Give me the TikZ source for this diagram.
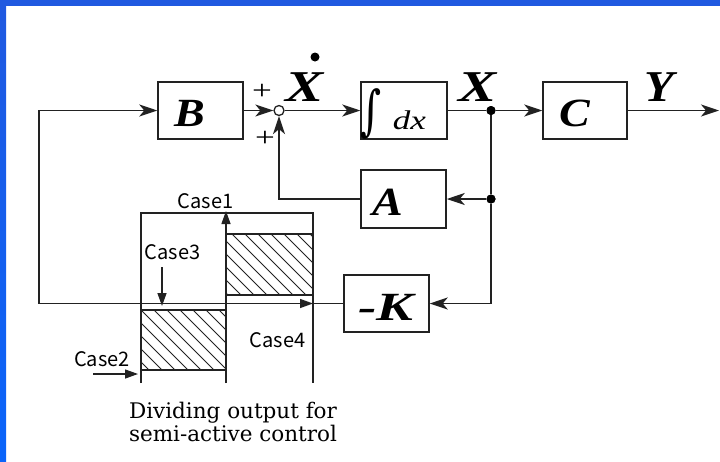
\documentclass[tikz,border=0pt]{standalone}
\usepackage{fontspec}
\setmainfont{Liberation Serif}
\newfontfamily\casefont{Noto Sans CJK JP}
\newfontfamily\capfont{DejaVu Serif}
\usetikzlibrary{arrows.meta,calc}
\definecolor{bluebar}{HTML}{2059E0}
\definecolor{bluebarlow}{HTML}{0A64FA}
\definecolor{ink}{HTML}{222222}
\begin{document}
\begin{tikzpicture}[x=1pt,y=-1pt,
  blk/.style={draw=ink,line width=1.5pt,minimum width=85pt,minimum height=57pt,inner sep=0pt},
  lbl/.style={font=\fontsize{40}{40}\selectfont\bfseries\itshape,inner sep=0pt,xscale=1.15},
  big/.style={font=\fontsize{44}{44}\selectfont\bfseries\itshape,inner sep=0pt},
  sig/.style={line width=1.5pt,draw=ink},
  arr/.style={sig,-{Stealth[length=18pt,width=12pt,inset=5pt]}},
  tri/.style={-{Triangle[length=13pt,width=9pt]}},
  plotln/.style={line width=1.3pt,draw=ink},
  hatch/.style={line width=1pt,draw=ink},
  case/.style={font=\casefont\fontsize{20}{20}\selectfont,inner sep=0pt},
  jdot/.style={circle,fill=black,inner sep=0pt,minimum size=9pt},
  plus/.style={font=\fontsize{27}{27}\selectfont,inner sep=0pt,xscale=1.3}
]
\useasboundingbox (0,0) rectangle (720,461);
\fill[white] (0,0) rectangle (720,461);
\shade[top color=bluebar,bottom color=bluebarlow] (0,0) rectangle (6,461);
\fill[bluebar] (0,0) rectangle (720,6);

% blocks
\node[blk] (B) at (200.5,110.5) {};
\node[blk,minimum width=86pt] (I) at (404,110.5) {};
\node[blk,minimum width=84pt] (C) at (585,110.5) {};
\node[blk,minimum height=58pt] (A) at (403.5,199) {};
\node[blk] (K) at (386.5,303.5) {};
\node[draw=ink,circle,line width=1.3pt,minimum size=10pt,inner sep=0pt] (S) at (279,110.5) {};

% block labels
\node[lbl] (Bl) at (190,113) {B};
\node[lbl] (Cl) at (575,113.5) {C};
\node[lbl] (Al) at (388,202) {A};
\node[lbl,xscale=1.2] (Kl) at (386,307.5) {-K};
\node[inner sep=0pt,font=\capfont\fontsize{54}{54}\selectfont,xscale=0.75] (Is) at (371.5,113.5) {∫};
\node[inner sep=0pt,anchor=base,font=\fontsize{27}{27}\selectfont\itshape,xscale=1.3] (Id) at (409.5,129) {dx};

% signal labels
\node[big,xscale=1.3] (Xd) at (304.5,87.5) {X};
\node[jdot,minimum size=9pt] (Xdd) at (315,57) {};
\node[big,xscale=1.3] (Xl) at (478,87.5) {X};
\node[big,xscale=1.1] (Yl) at (659,87.5) {Y};
\node[plus] (p1) at (262,92) {+};
\node[plus] (p2) at (265,139) {+};

% junctions
\node[jdot] (J1) at (491,110.5) {};
\node[jdot] (J2) at (491,199) {};
\coordinate (Kc) at (491,303.5);
\coordinate (out) at (719,110.5);
\coordinate (fbl) at (39,303.5);
\coordinate (fbu) at (39,110.5);

% connectors
\draw[arr] (B.east) -- (S.west);
\draw[arr] (S.east) -- (I.west);
\draw[sig] (I.east) -- (J1);
\draw[arr] (J1) -- (C.west);
\draw[arr] (C.east) -- (out);
\draw[sig] (J1) -- (J2) -- (Kc);
\draw[arr] (J2) -- (A.east);
\draw[arr] (Kc) -- (K.east);
\draw[arr] (A.west) -| (S.south);
\draw[arr] (K.west) -- (fbl) -- (fbu) -- (B.west);
\node[jdot] at (J1) {};
\node[jdot] at (J2) {};

% dividing plot
\coordinate (pl) at (141,213);
\coordinate (pr) at (313,213);
\draw[plotln] (141,383) -- (pl) -- (pr) -- (313,383);
\begin{scope}
\clip (226,234) rectangle (313,295);
\foreach \s in {-80,-67,...,320} \draw[hatch] (\s,234) -- ++(80,80);
\end{scope}
\draw[plotln] (226,234) -- (313,234) (226,295) -- (313,295);
\begin{scope}
\clip (141,310) rectangle (226,370);
\foreach \s in {-80,-67,...,240} \draw[hatch] (\s,310) -- ++(80,80);
\end{scope}
\draw[plotln] (141,310) -- (226,310) (141,370) -- (226,370);
\draw[plotln,tri] (226,383) -- (226,211);
\draw[plotln,tri] (141,303.5) -- (313,303.5);

\node[case] (c1) at (205.5,201.5) {Case1};
\node[case] (c3) at (172.5,252.5) {Case3};
\node[case] (c4) at (277.5,340.5) {Case4};
\node[case] (c2) at (102,359.5) {Case2};
\coordinate (c3t) at (162,306);
\coordinate (c2t) at (138,374);
\draw[plotln,tri] (162,267) -- (c3t);
\draw[plotln,tri] (93,374) -- (c2t);

% caption
\node[font=\capfont\fontsize{21.5}{21.5}\selectfont,anchor=base,inner sep=0pt] (t1) at (233,418) {Dividing output for};
\node[font=\capfont\fontsize{21.5}{21.5}\selectfont,anchor=base,inner sep=0pt] (t2) at (233,441) {semi-active control};
\end{tikzpicture}
\end{document}
